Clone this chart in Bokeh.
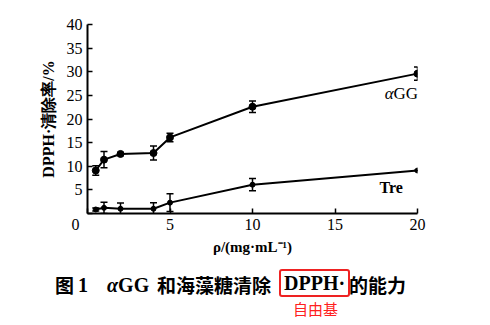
from bokeh.plotting import figure
from bokeh.layouts import column
from bokeh.models import Label, FixedTicker, Whisker, ColumnDataSource, Div
from bokeh.embed import file_html
from bokeh.resources import INLINE

conc = [0.5, 1, 2, 4, 5, 10, 20]
agg = [9.1, 11.4, 12.6, 12.8, 16.1, 22.6, 29.6]
agg_err = [1.0, 1.7, 0.3, 1.5, 0.9, 1.2, 1.4]
tre = [0.85, 1.2, 1.0, 1.0, 2.3, 6.1, 9.1]
tre_err = [0.3, 1.2, 1.2, 1.3, 1.9, 1.3, 0.0]
x_ticks = [0, 5, 10, 15, 20]
y_ticks = [0, 5, 10, 15, 20, 25, 30, 35, 40]

SERIF = "Liberation Serif"
CJK = "Noto Sans CJK SC"

p = figure(width=490, height=265, output_backend="svg", toolbar_location=None,
           x_range=(0, 20), y_range=(0, 40),
           min_border_left=87, min_border_right=73, min_border_top=24, min_border_bottom=52)
p.frame_width = 330
p.frame_height = 189
p.outline_line_color = None
p.grid.visible = False
p.background_fill_color = "white"
p.border_fill_color = "white"

for ax in (p.xaxis[0], p.yaxis[0]):
    ax.axis_line_width = 2
    ax.axis_line_color = "black"
    ax.major_tick_in = 5
    ax.major_tick_out = 0
    ax.major_tick_line_width = 1.5
    ax.minor_tick_line_color = None
    ax.major_label_text_font = SERIF
    ax.major_label_text_font_size = "16px"
    ax.major_label_text_color = "black"
    ax.axis_label_text_font = SERIF
    ax.axis_label_text_font_style = "bold"
    ax.axis_label_text_font_size = "15px"
    ax.axis_label_text_color = "black"

p.yaxis.axis_label_text_font_size = "16px"
p.xaxis.ticker = FixedTicker(ticks=x_ticks)
p.yaxis.ticker = FixedTicker(ticks=y_ticks)
p.yaxis.major_label_overrides = {0: ""}
p.xaxis.major_label_overrides = {0: "0\u2007\u2007\u2007"}
p.xaxis.major_label_standoff = 2
p.yaxis.major_label_standoff = 5
p.xaxis.axis_label = "ρ/(mg·mL⁻¹)"
p.xaxis.axis_label_standoff = 3
p.yaxis.axis_label = "DPPH·清除率/%"
p.yaxis.axis_label_standoff = 7

src_a = ColumnDataSource(dict(x=conc, y=agg,
                              lo=[v - e for v, e in zip(agg, agg_err)],
                              hi=[v + e for v, e in zip(agg, agg_err)]))
src_t = ColumnDataSource(dict(x=conc, y=tre,
                              lo=[v - e for v, e in zip(tre, tre_err)],
                              hi=[v + e for v, e in zip(tre, tre_err)]))

for src, sz in ((src_a, 7), (src_t, 5)):
    p.line("x", "y", source=src, line_color="black", line_width=2)
    p.scatter("x", "y", source=src, size=sz, fill_color="black", line_color="black")
    w = Whisker(source=src, base="x", lower="lo", upper="hi", line_color="black",
                line_width=1.5)
    w.upper_head.size = 7
    w.lower_head.size = 7
    w.upper_head.line_width = 1.5
    w.lower_head.line_width = 1.5
    p.add_layout(w)


def lab(x, y, text, **kw):
    opts = dict(text_font=SERIF, text_font_style="bold", text_font_size="15px",
                text_color="black", text_align="center", text_baseline="middle")
    opts.update(kw)
    p.add_layout(Label(x=x, y=y, text=text, **opts))


lab(18.55, 25.3, "α", text_font_size="17px", text_font_style="italic", text_align="right")
lab(18.55, 25.3, "GG", text_font_size="17px", text_font_style="normal", text_align="left")
lab(18.4, 5.5, "Tre", text_font_size="16px")

SER = "font-family:'Liberation Serif',serif;"
CJ = "font-family:'Noto Sans CJK SC',sans-serif;"
caption_html = (
    "<div style=\"position:relative;width:490px;height:60px;font-weight:bold;color:#000;"
    "line-height:24px;white-space:nowrap;\">"
    f"<span style=\"position:absolute;left:55px;top:8px;{CJ}font-size:19px;\">图</span>"
    f"<span style=\"position:absolute;left:78px;top:8px;{SER}font-size:20px;\">1</span>"
    f"<span style=\"position:absolute;left:107px;top:8px;{SER}font-size:20px;\"><i>α</i>GG</span>"
    f"<span style=\"position:absolute;left:157px;top:8px;{CJ}font-size:19px;\">和海藻糖清除</span>"
    f"<span style=\"position:absolute;left:279px;top:4px;{SER}font-size:20px;"
    "border:2px solid #ee2222;border-radius:3px;padding:0 3px;\">DPPH·</span>"
    f"<span style=\"position:absolute;left:349px;top:8px;{CJ}font-size:19px;\">的能力</span>"
    f"<span style=\"position:absolute;left:293px;top:35px;{CJ}font-size:15px;font-weight:normal;"
    "color:#ff2020;line-height:18px;\">自由基</span>"
    "</div>"
)
cap = Div(text=caption_html, width=490, height=60, margin=0)

layout = column(p, cap, spacing=0)
open("out.html", "w").write(file_html(layout, INLINE))
